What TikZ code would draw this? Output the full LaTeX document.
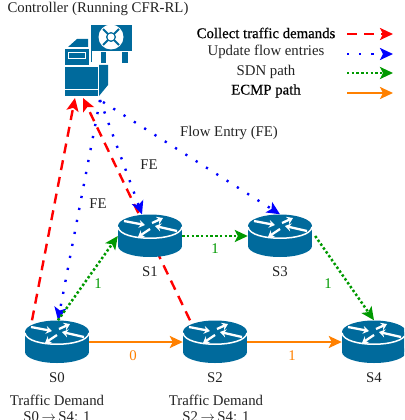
\documentclass[tikz,border=0pt]{standalone}
\usepackage{fontspec}
\setmainfont{Liberation Serif}
\newfontfamily\fakebold[FakeBold=0.5]{Liberation Serif}
\usetikzlibrary{arrows.meta}
\definecolor{ciscoblue}{HTML}{006A9C}
\definecolor{lblack}{HTML}{222222}
\definecolor{eorange}{HTML}{FF8000}
\definecolor{egreen}{HTML}{009900}
\tikzset{
  txt/.style={font=\fontsize{14.8}{17}\selectfont, text=lblack, inner sep=0pt, anchor=center},
  boldtxt/.style={txt, text=black, font=\fontsize{14.8}{17}\selectfont\fakebold},
  routerbox/.style={minimum width=64pt, minimum height=43pt, inner sep=0pt},
  ctrlbox/.style={minimum width=66pt, minimum height=71pt, inner sep=0pt},
  tipred/.style={-{Stealth[length=13pt,width=12pt,inset=3pt]}, red, line width=2.4pt, dash pattern=on 10pt off 7pt},
  tipblue/.style={-{Stealth[length=13pt,width=12pt,inset=3pt]}, blue, line width=2.4pt, dash pattern=on 2.2pt off 10pt},
  tipgreen/.style={-{Stealth[length=13pt,width=12pt,inset=3pt]}, egreen, line width=2.5pt, dash pattern=on 2.4pt off 2.3pt},
  tiporange/.style={-{Stealth[length=13pt,width=12pt,inset=3pt]}, eorange, line width=2.4pt},
  rarrow/.style={white, line width=2.3pt, -{Stealth[length=6pt,width=8pt]}},
}
\newcommand{\routericon}[1]{%
  \begin{scope}[shift={(#1)}]
    \fill[ciscoblue] (-32,-10) rectangle (32,10);
    \fill[ciscoblue] (0,10) ellipse [x radius=32, y radius=11];
    \fill[ciscoblue] (0,-10) ellipse [x radius=32, y radius=11.5];
    \draw[white, line width=1.5pt] (-32,-9) .. controls (-30,6) and (30,6) .. (32,-9);
    \draw[rarrow] (-26,-15) -- (-5,-11);
    \draw[rarrow] (2,-13) -- (13,-18);
    \draw[rarrow] (27,-5) -- (5,-10);
    \draw[rarrow] (0,-7) -- (-12,1);
  \end{scope}}
\begin{document}
\begin{tikzpicture}[x=1pt,y=-1pt]
\useasboundingbox (0,0) rectangle (404,420);
\clip (0,0) rectangle (404,420);
% nodes
\node[routerbox] (S0) at (57,342) {};
\node[routerbox] (S1) at (150,236) {};
\node[routerbox] (S2) at (215,342) {};
\node[routerbox] (S3) at (280,236) {};
\node[routerbox] (S4) at (374,342) {};
\node[ctrlbox] (ctrl) at (98,60) {};
\coordinate (redtipA) at (75,98);
\coordinate (redtipB) at (83,98);
\coordinate (bluestart) at (100,100);
\coordinate (bluestartB) at (103,102);
% red behind the routers
\draw[tipred] ([xshift=-25pt]S0.north) -- (redtipA);
\draw[tipred] ([xshift=-25pt]S2.north) -- (redtipB);
% routers
\routericon{S0}
\routericon{S1}
\routericon{S2}
\routericon{S3}
\routericon{S4}
% controller icon
\fill[ciscoblue] (90.5,25) rectangle (131.5,51);
\fill[white] (111,37) circle [radius=12.5];
\draw[ciscoblue, line width=1.8pt] (103,29) -- (119,45) (119,29) -- (103,45);
\fill[ciscoblue] (111,37) circle [radius=5];
\fill[white] (111,37) circle [radius=3.5];
\fill[ciscoblue] (90.5,51) rectangle (92,62);
\fill[ciscoblue] (101,52.5) rectangle (106,63);
\fill[ciscoblue] (122,52.5) rectangle (128,63);
\fill[ciscoblue] (68,47) -- (77,39) -- (88,39) -- (88,47) -- cycle;
\fill[ciscoblue] (65,49) rectangle (89,65);
\draw[white, line width=1pt] (68.5,52.5) rectangle (85.5,58.5);
\fill[ciscoblue] (65,67) rectangle (98,96);
\fill[white] (65,88.5) rectangle (98,90);
\fill[ciscoblue] (99,65) -- (108,65) -- (108,85) -- (99,96) -- cycle;
% blue
\draw[tipblue] (bluestart) -- ([xshift=1pt]S0.north);
\draw[tipblue] (bluestart) -- ([xshift=-8pt]S1.north);
\draw[tipblue] (bluestartB) -- (S3.north);
% green
\draw[tipgreen] ([xshift=1pt]S0.north) -- (S1.west);
\draw[tipgreen] (S1.east) -- (S3.west);
\draw[tipgreen] ([xshift=3pt]S3.east) -- (S4.north);
% orange
\draw[tiporange] (S0.east) -- (S2.west);
\draw[tiporange] (S2.east) -- (S4.west);
% labels
\node[txt] (lctrl) at (98,9) {Controller (Running CFR-RL)};
\node[txt] (lfe) at (229,133) {Flow Entry (FE)};
\node[txt] (lfea) at (149,165) {FE};
\node[txt] (lfeb) at (98,204) {FE};
\node[txt] (n0) at (57,378) {S0};
\node[txt] (n1) at (150,272) {S1};
\node[txt] (n2) at (215,378) {S2};
\node[txt] (n3) at (280,272) {S3};
\node[txt] (n4) at (374,378) {S4};
\node[txt] (td0) at (57,400) {Traffic Demand};
\node[txt] (td0b) at (57,417) {S0\,$\rightarrow$\,S4: 1};
\node[txt] (td2) at (216,400) {Traffic Demand};
\node[txt] (td2b) at (216,417) {S2\,$\rightarrow$\,S4: 1};
\node[txt, text=egreen] (w1) at (98,284) {1};
\node[txt, text=egreen] (w2) at (215,249) {1};
\node[txt, text=egreen] (w3) at (328,284) {1};
\node[txt, text=eorange] (w4) at (133,356) {0};
\node[txt, text=eorange] (w5) at (292,356) {1};
% legend
\node[boldtxt] (lg1) at (266,33) {Collect traffic demands};
\node[txt] (lg2) at (266,52) {Update flow entries};
\node[txt] (lg3) at (266,72) {SDN path};
\node[boldtxt] (lg4) at (266,91) {ECMP path};
\coordinate (a1) at (347,34); \coordinate (b1) at (393,34);
\coordinate (a2) at (347,54); \coordinate (b2) at (393,54);
\coordinate (a3) at (347,73); \coordinate (b3) at (393,73);
\coordinate (a4) at (347,93); \coordinate (b4) at (393,93);
\draw[tipred] (a1) -- (b1);
\draw[tipblue] (a2) -- (b2);
\draw[tipgreen] (a3) -- (b3);
\draw[tiporange] (a4) -- (b4);
\end{tikzpicture}
\end{document}
